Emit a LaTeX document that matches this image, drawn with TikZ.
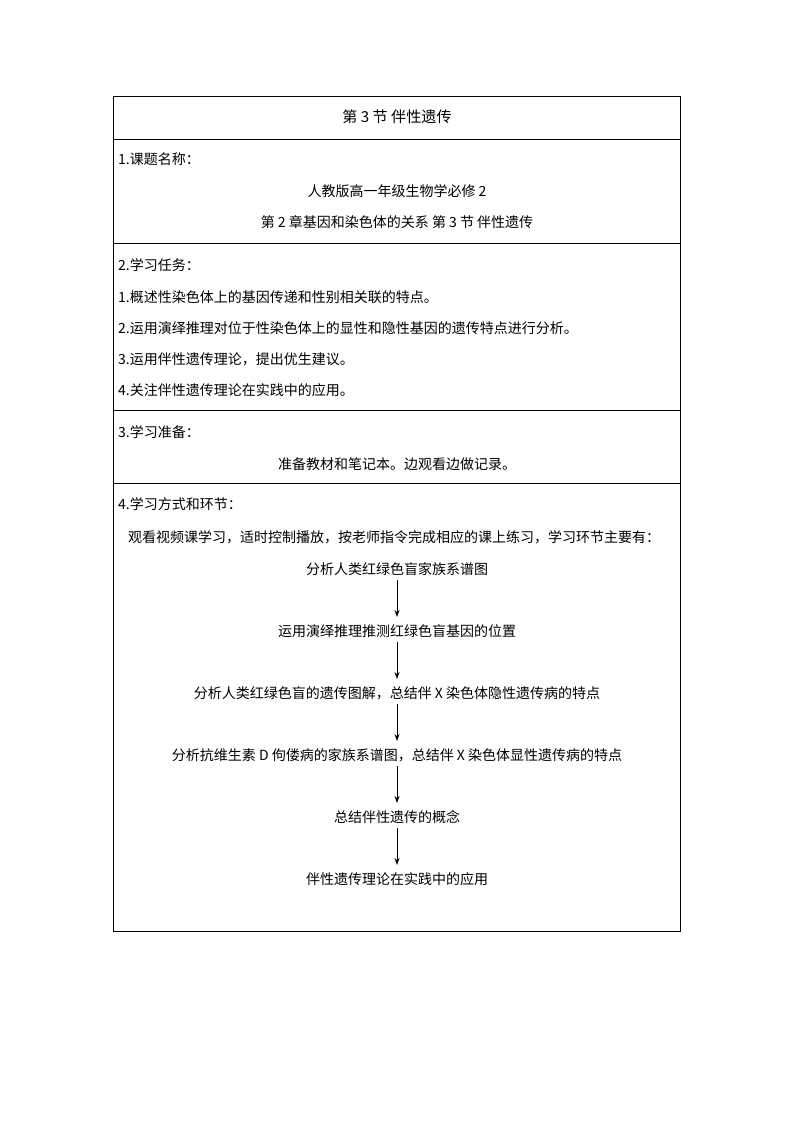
\documentclass[tikz,border=0pt]{standalone}
\usepackage{fontspec}
\setmainfont{Liberation Serif}
\newfontfamily\cjk{Noto Sans CJK SC}[Scale=1.12]
\usetikzlibrary{arrows.meta}
\begin{document}
\begin{tikzpicture}[x=1pt,y=-1pt,
  txt/.style={inner sep=0pt,font=\cjk\fontsize{12.5}{14}\selectfont},
  lt/.style={txt,anchor=west},
  ct/.style={txt,anchor=center},
  flow/.style={-{Stealth[length=7pt,width=5pt]},line width=0.8pt}]
\useasboundingbox (0,0) rectangle (794,1123);
\draw[line width=0.6pt] (113,96) rectangle (680,931);
\foreach \y in {139,243,410,483} \draw[line width=0.6pt] (113,\y) -- (680,\y);
\node[ct,font=\cjk\fontsize{13.5}{15}\selectfont] (title) at (397,117) {第 3 节 伴性遗传};
\node[lt] (h1) at (118,159) {1.课题名称：};
\node[ct] (c1) at (397,191) {人教版高一年级生物学必修 2};
\node[ct] (c2) at (397,222) {第 2 章基因和染色体的关系 第 3 节 伴性遗传};
\node[lt] (h2) at (118,265) {2.学习任务：};
\node[lt] (t1) at (118,297) {1.概述性染色体上的基因传递和性别相关联的特点。};
\node[lt] (t2) at (118,328) {2.运用演绎推理对位于性染色体上的显性和隐性基因的遗传特点进行分析。};
\node[lt] (t3) at (118,359) {3.运用伴性遗传理论，提出优生建议。};
\node[lt] (t4) at (118,390) {4.关注伴性遗传理论在实践中的应用。};
\node[lt] (h3) at (118,432) {3.学习准备：};
\node[ct] (p1) at (397,464) {准备教材和笔记本。边观看边做记录。};
\node[lt] (h4) at (118,504) {4.学习方式和环节：};
\node[ct] (i1) at (394,537) {观看视频课学习，适时控制播放，按老师指令完成相应的课上练习，学习环节主要有：};
\node[ct] (f1) at (397,569) {分析人类红绿色盲家族系谱图};
\node[ct] (f2) at (397,631) {运用演绎推理推测红绿色盲基因的位置};
\node[ct] (f3) at (397,693) {分析人类红绿色盲的遗传图解，总结伴 X 染色体隐性遗传病的特点};
\node[ct] (f4) at (397,755) {分析抗维生素 D 佝偻病的家族系谱图，总结伴 X 染色体显性遗传病的特点};
\node[ct] (f5) at (397,817) {总结伴性遗传的概念};
\node[ct] (f6) at (397,879) {伴性遗传理论在实践中的应用};
\foreach \a/\b in {f1/f2,f2/f3,f3/f4,f4/f5,f5/f6}
  \draw[flow] ([yshift=-11pt]\a.center) -- ([yshift=14pt]\b.center);
\end{tikzpicture}
\end{document}
